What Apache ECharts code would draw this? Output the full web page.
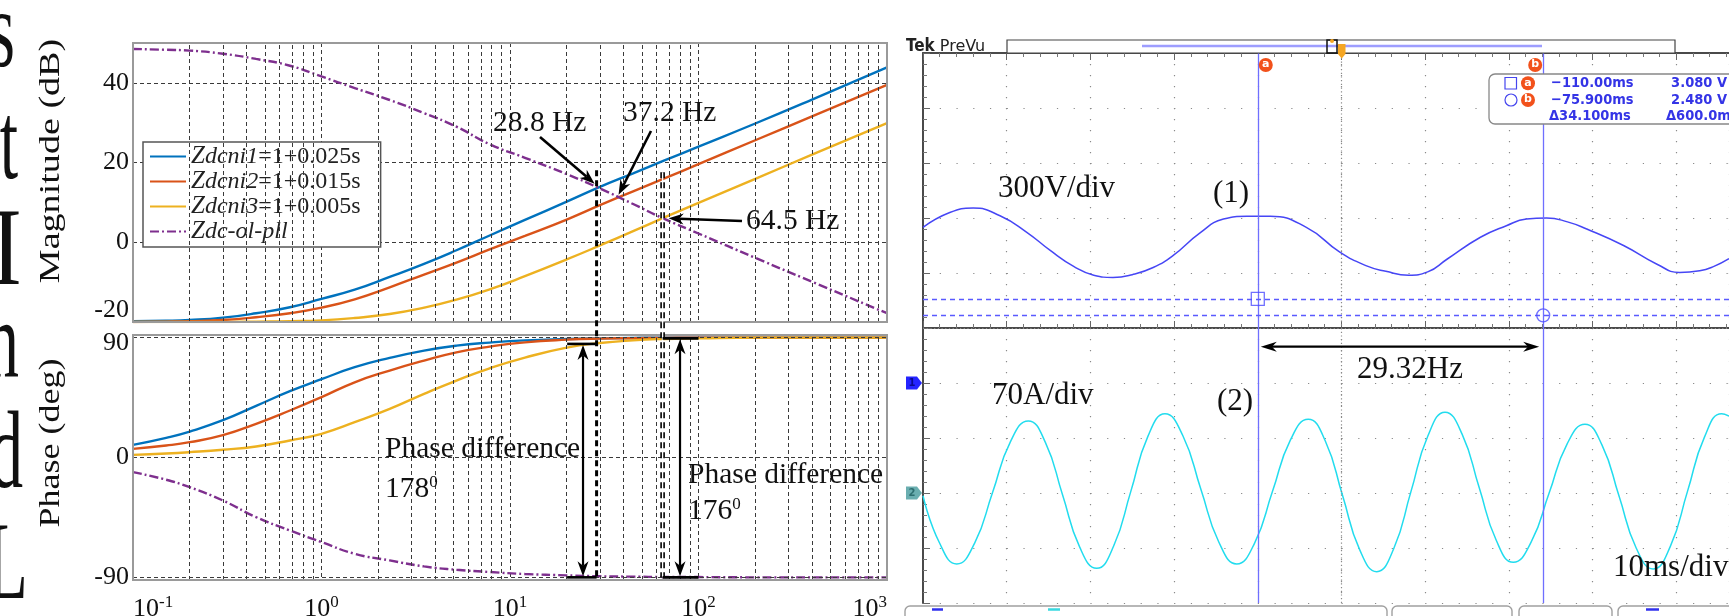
<!DOCTYPE html>
<html>
<head>
<meta charset="utf-8">
<script src="https://cdn.jsdelivr.net/npm/echarts@6.0.0/dist/echarts.min.js"></script>
<style>
html,body{margin:0;padding:0;background:#ffffff;overflow:hidden}
#chart{width:1729px;height:616px}
</style>
</head>
<body>
<div id="chart"></div>
<script>
// ===== Bode plot data =====
const freqHz = [0.1,0.15,0.2,0.3,0.45,0.68,1.0,1.5,2.3,3.5,5.2,7.8,12,20,30,45,65,100,200,400,1000];
const magZdcni1 = [-19.8,-19.7,-19.5,-18.9,-17.8,-16.3,-14.2,-11.9,-8.7,-5.4,-2.0,1.7,5.6,10.2,13.9,17.3,20.4,24.0,29.8,35.8,43.9];
const magZdcni2 = [-20.0,-19.9,-19.8,-19.5,-18.8,-17.8,-16.4,-14.3,-11.3,-8.1,-5.1,-1.8,1.6,5.7,9.3,12.8,15.9,19.6,25.6,31.6,39.5];
const magZdcni3 = [-20.0,-20.0,-20.0,-20.0,-19.9,-19.8,-19.6,-19.0,-18.0,-16.4,-14.4,-11.8,-8.5,-4.3,-0.8,2.8,6.1,9.9,15.9,22.0,29.9];
const magZpll   = [48.5,48.3,48.1,47.3,46.0,44.3,41.6,38.7,35.7,32.4,29.0,24.6,21.2,17.1,13.5,9.6,6.0,2.2,-3.9,-9.9,-17.8];
const phZdcni1  = [9.5,14.8,19.5,28.0,38.8,49.8,58.8,67.8,74.8,80.3,84.0,86.3,88.0,89.0,89.5,89.8,90,90,90,90,90];
const phZdcni2  = [6.5,9.0,11.5,16.8,25.3,35.3,45.3,56.5,65.3,72.8,79.0,83.3,86.5,88.5,89.3,89.6,89.8,90,90,90,90];
const phZdcni3  = [2.0,3.0,4.0,5.8,8.3,12.8,17.8,26.5,36.5,47.8,57.8,67.0,75.0,82.5,86.0,88.0,89.0,89.5,90,90,90];
const phZpll    = [-11.0,-16.7,-22.3,-32.3,-44.8,-54.8,-63.5,-72.3,-77.3,-81.8,-84.3,-86.0,-87.5,-88.5,-89.2,-89.5,-89.7,-89.8,-90,-90,-90];
const seriesNames = ['Zdcni1=1+0.025s','Zdcni2=1+0.015s','Zdcni3=1+0.005s','Zdc-ol-pll'];
const magTickLabels = [-20, 0, 20, 40];
const phaseTickLabels = [-90, 0, 90];
// annotations
const crossFreq = [28.8, 37.2, 64.5];
const crossDb   = [13.7, 11.4, 6.0];
const crossText = ['28.8 Hz', '37.2 Hz', '64.5 Hz'];
const phaseDiffText = ['178', '176'];

// ===== Oscilloscope data (time in ms, value in divisions) =====
const ch1Time = [0,3.2,6.0,9.2,12.4,15.2,18.0,20.4,22.7,25.0,27.5,29.9,33.1,35.9,38.7,41.5,45.8,49.8,53.0,55.3,58.0,60.3,62.6,66.6,69.7,72.1,74.5,77.0,79.3,83.7,87.7,90.4,92.8,94.5,96.3];
const ch1Div  = [1.83,2.10,2.18,2.04,1.74,1.41,1.12,0.96,0.92,0.97,1.10,1.32,1.73,1.98,2.03,2.03,1.83,1.38,1.13,1.03,0.96,1.02,1.25,1.65,1.86,1.98,2.00,1.93,1.80,1.50,1.16,1.01,1.04,1.12,1.26];
const ch2Time = [0.0,1.95,4.03,6.17,8.31,10.44,12.58,14.62,16.67,18.71,20.75,22.79,24.83,26.87,28.91,31.05,33.20,35.34,37.48,39.62,41.76,43.89,46.03,48.08,50.12,52.17,54.21,56.25,58.29,60.33,62.37,64.41,66.45,68.49,70.53,72.67,74.81,76.95,79.09,81.13,83.17,85.21,87.25,89.29,91.34,93.38,95.42,96.3];
const ch2Div  = [-3.05,-3.90,-4.29,-3.91,-2.99,-2.07,-1.69,-2.08,-3.03,-3.98,-4.37,-3.96,-2.97,-1.97,-1.56,-1.96,-2.93,-3.89,-4.29,-3.91,-2.97,-2.04,-1.66,-2.06,-3.04,-4.03,-4.43,-4.01,-2.98,-1.96,-1.53,-1.93,-2.90,-3.86,-4.26,-3.89,-3.00,-2.11,-1.75,-2.13,-3.06,-4.00,-4.38,-3.97,-2.97,-1.98,-1.56,-1.60];
const cursorTime = [40.0, 74.1];
const cursorLevel = [0.53, 0.23];
const chGround = [-1, -3];
const readoutRows = [['\u2212110.00ms','3.080 V'],['\u221275.900ms','2.480 V'],['\u039434.100ms','\u0394600.0m']];

const SERIF = '"Liberation Serif","Times New Roman",serif';
const COLORS = ['#0072BD','#D95319','#EDB120','#7E2F8E'];
const GRIDC = '#3a3a3a';

const zip = (a, b) => a.map((v, i) => [v, b[i]]);
const minorF = [];
[0.1, 1, 10, 100].forEach(d => { for (let k = 2; k <= 9; k++) minorF.push(+(d * k).toPrecision(3)); });

function bodeSeries(name, vals, idx, gi) {
  return {
    name, type: 'line', xAxisIndex: gi, yAxisIndex: gi, data: zip(freqHz, vals),
    smooth: 0.5, symbol: 'none', z: 3,
    lineStyle: {color: COLORS[idx], width: 2.4, type: idx === 3 ? [9, 3, 2, 3] : 'solid'},
    itemStyle: {color: COLORS[idx]}
  };
}
const magVals = [magZdcni1, magZdcni2, magZdcni3, magZpll];
const phVals = [phZdcni1, phZdcni2, phZdcni3, phZpll];

const gridLineStyle = {color: GRIDC, type: [4, 3], width: 1};
const mlBase = {symbol: ['none','none'], silent: true, label: {show: false}, animation: false, emphasis: {disabled: true}};

const option = {
  animation: false,
  backgroundColor: '#ffffff',
  grid: [
    {left: 133, top: 43, width: 754, height: 279, outerBoundsMode: 'none', containLabel: false},
    {left: 133, top: 335, width: 754, height: 245, outerBoundsMode: 'none', containLabel: false},
    {left: 923, top: 53, width: 806, height: 550, outerBoundsMode: 'none', containLabel: false}
  ],
  xAxis: [
    {gridIndex: 0, type: 'log', logBase: 10, min: 0.1, max: 1000,
     axisLine: {show: false}, axisTick: {show: false}, axisLabel: {show: false},
     splitLine: {show: true, lineStyle: gridLineStyle}},
    {gridIndex: 1, type: 'log', logBase: 10, min: 0.1, max: 1000,
     axisLine: {show: false}, axisTick: {show: false},
     splitLine: {show: true, lineStyle: gridLineStyle},
     axisLabel: {show: true, margin: 14, alignMinLabel: 'left', alignMaxLabel: 'right',
       formatter: v => '{b|10}{s|' + Math.round(Math.log10(v)) + '}',
       rich: {b: {fontFamily: SERIF, fontSize: 26, color: '#111', lineHeight: 30},
              s: {fontFamily: SERIF, fontSize: 17, color: '#111', lineHeight: 16, verticalAlign: 'top'}}}},
    {gridIndex: 2, type: 'value', min: 0, max: 96.3, interval: 10, position: 'bottom',
     axisLine: {show: true, lineStyle: {color: '#4a4a4a', width: 2}},
     axisTick: {show: true, inside: true, length: 7, lineStyle: {color: '#666'}},
     minorTick: {show: true, splitNumber: 5, length: 4, lineStyle: {color: '#777'}},
     axisLabel: {show: false},
     splitLine: {show: true, lineStyle: {color: '#8a8a8a', type: [1.2, 9.8], width: 1.2}}},
    {gridIndex: 2, type: 'value', min: 0, max: 96.3, interval: 10, position: 'top',
     axisLine: {show: true, lineStyle: {color: '#4a4a4a', width: 2}},
     axisTick: {show: true, inside: true, length: 7, lineStyle: {color: '#666'}},
     minorTick: {show: true, splitNumber: 5, length: 4, lineStyle: {color: '#777'}},
     axisLabel: {show: false}, splitLine: {show: false}}
  ],
  yAxis: [
    {gridIndex: 0, type: 'value', min: -20, max: 50, interval: 20,
     axisLine: {show: false}, axisTick: {show: false},
     splitLine: {show: true, lineStyle: gridLineStyle},
     axisLabel: {margin: 4,
       formatter: v => magTickLabels.indexOf(v) < 0 ? '' : (v === -20 ? '{n|-20}\n{g| }' : '{n|' + v + '}'),
       rich: {n: {fontFamily: SERIF, fontSize: 26, color: '#111', lineHeight: 26, align: 'right'},
              g: {fontSize: 2, lineHeight: 24}}}},
    {gridIndex: 1, type: 'value', min: -92, max: 92, interval: 2,
     axisLine: {show: false}, axisTick: {show: false}, splitLine: {show: false},
     axisLabel: {margin: 4,
       formatter: v => phaseTickLabels.indexOf(v) < 0 ? '' : (v === 90 ? '{g| }\n{n|90}' : '{n|' + v + '}'),
       rich: {n: {fontFamily: SERIF, fontSize: 26, color: '#111', lineHeight: 26, align: 'right'},
              g: {fontSize: 2, lineHeight: 12}}}},
    {gridIndex: 2, type: 'value', min: -5, max: 5, interval: 1,
     axisLine: {show: true, lineStyle: {color: '#4a4a4a', width: 2}},
     axisTick: {show: true, inside: true, length: 7, lineStyle: {color: '#666'}},
     minorTick: {show: true, splitNumber: 5, length: 4, lineStyle: {color: '#777'}},
     axisLabel: {show: false},
     splitLine: {show: true, lineStyle: {color: '#8a8a8a', type: [1.2, 15.54], width: 1.2}}}
  ],
  legend: {
    data: seriesNames, orient: 'vertical', left: 143, top: 142,
    itemWidth: 36, itemHeight: 14, itemGap: 0, selectedMode: false,
    itemStyle: {opacity: 0},
    backgroundColor: '#ffffff', borderColor: '#555', borderWidth: 1.5, borderRadius: 0,
    padding: [2, 20, 3, 6],
    textStyle: {fontFamily: SERIF, fontSize: 24, color: '#222', lineHeight: 25,
      rich: {z: {fontFamily: SERIF, fontSize: 25, fontStyle: 'italic', color: '#222', lineHeight: 25},
             s: {fontFamily: SERIF, fontSize: 24, fontStyle: 'italic', color: '#222', lineHeight: 17, verticalAlign: 'bottom'},
             r: {fontFamily: SERIF, fontSize: 24, color: '#222', lineHeight: 25}}},
    formatter: name => {
      const eq = name.indexOf('=');
      const sub = eq < 0 ? name.slice(1) : name.slice(1, eq);
      const rest = eq < 0 ? '' : name.slice(eq);
      return '{z|Z}{s|' + sub + '}' + (rest ? '{r|' + rest + '}' : '');
    }
  },
  series: [
    ...magVals.map((v, i) => bodeSeries(seriesNames[i], v, i, 0)),
    ...phVals.map((v, i) => bodeSeries(seriesNames[i], v, i, 1)),
    {type: 'line', xAxisIndex: 0, yAxisIndex: 0, data: [[1, 0]], symbol: 'none', z: 1, silent: true,
     lineStyle: {opacity: 0},
     markLine: Object.assign({lineStyle: gridLineStyle, data: minorF.map(f => ({xAxis: f}))}, mlBase)},
    {type: 'line', xAxisIndex: 1, yAxisIndex: 1, data: [[1, 0]], symbol: 'none', z: 1, silent: true,
     lineStyle: {opacity: 0},
     markLine: Object.assign({lineStyle: gridLineStyle,
       data: minorF.map(f => ({xAxis: f})).concat(phaseTickLabels.map(p => ({yAxis: p})))}, mlBase)},
    // scope centre graticule lines
    {type: 'line', xAxisIndex: 2, yAxisIndex: 2, data: [[0, 0]], symbol: 'none', z: 1, silent: true,
     lineStyle: {opacity: 0},
     markLine: Object.assign({lineStyle: {color: '#8a8a8a', type: [1.2, 2.5], width: 1.2},
       data: [{xAxis: 50}, {yAxis: 0}]}, mlBase)},
    // cursors
    {type: 'line', xAxisIndex: 2, yAxisIndex: 2, data: [[0, 0]], symbol: 'none', z: 4, silent: true,
     lineStyle: {opacity: 0},
     markLine: Object.assign({
       data: cursorTime.map(t => ({xAxis: t, lineStyle: {color: '#6f6fff', width: 1.3, type: 'solid'}}))
         .concat(cursorLevel.map(l => ({yAxis: l, lineStyle: {color: '#5a5aff', width: 1.3, type: [5, 4]}})))}, mlBase)},
    {name: 'CH1', type: 'line', xAxisIndex: 2, yAxisIndex: 2, data: zip(ch1Time, ch1Div),
     smooth: 0.5, symbol: 'none', z: 3, lineStyle: {color: '#4646f5', width: 1.5}},
    {name: 'CH2', type: 'line', xAxisIndex: 2, yAxisIndex: 2, data: zip(ch2Time, ch2Div),
     smooth: 0.5, symbol: 'none', z: 3, lineStyle: {color: '#22dcee', width: 1.5}},
    {type: 'scatter', xAxisIndex: 2, yAxisIndex: 2, z: 5, silent: true,
     data: [{value: [cursorTime[0], cursorLevel[0]], symbol: 'rect'}, {value: [cursorTime[1], cursorLevel[1]], symbol: 'circle'}],
     symbolSize: 13, itemStyle: {color: 'rgba(0,0,0,0)', borderColor: '#4b4bff', borderWidth: 1.3}}
  ]
};

const chart = echarts.init(document.getElementById('chart'), null, {renderer: 'canvas', width: 1729, height: 616});
chart.setOption(option);

const P0 = (f, d) => chart.convertToPixel({gridIndex: 0}, [f, d]);
const P1 = (f, d) => chart.convertToPixel({gridIndex: 1}, [f, d]);
const P2 = (t, v) => chart.convertToPixel({gridIndex: 2}, [t, v]);

const G = [];
const Z = 100;
function txt(x, y, text, o) {
  const st = Object.assign({text, fontFamily: SERIF, fontSize: 29.5, fill: '#111',
    align: 'left', verticalAlign: 'middle'}, o || {});
  st.textAlign = st.align;
  st.textVerticalAlign = st.verticalAlign;
  return {type: 'text', x, y, z: Z, style: st};
}
function line(x1, y1, x2, y2, stroke, w, dash) {
  return {type: 'line', z: Z, shape: {x1, y1, x2, y2}, style: {stroke, lineWidth: w, lineDash: dash || null}};
}
function head(x1, y1, x2, y2, hl, hw, col) {
  const dx = x2 - x1, dy = y2 - y1, L = Math.hypot(dx, dy), ux = dx / L, uy = dy / L;
  const bx = x2 - ux * hl, by = y2 - uy * hl;
  const ix = x2 - ux * hl * 0.7, iy = y2 - uy * hl * 0.7;
  return {type: 'polygon', z: Z, shape: {points: [[x2, y2], [bx - uy * hw, by + ux * hw], [ix, iy], [bx + uy * hw, by - ux * hw]]}, style: {fill: col}};
}
function arrow(x1, y1, x2, y2, w, col, hl, hw) {
  const dx = x2 - x1, dy = y2 - y1, L = Math.hypot(dx, dy);
  const ex = x2 - dx / L * hl * 0.7, ey = y2 - dy / L * hl * 0.7;
  G.push(line(x1, y1, ex, ey, col, w));
  G.push(head(x1, y1, x2, y2, hl, hw, col));
}
function dblArrow(x1, y1, x2, y2, w, col, hl, hw) {
  const dx = x2 - x1, dy = y2 - y1, L = Math.hypot(dx, dy), ux = dx / L, uy = dy / L;
  G.push(line(x1 + ux * hl * 0.7, y1 + uy * hl * 0.7, x2 - ux * hl * 0.7, y2 - uy * hl * 0.7, col, w));
  G.push(head(x2, y2, x1, y1, hl, hw, col));
  G.push(head(x1, y1, x2, y2, hl, hw, col));
}

// --- clipped text column at far left: [letter, y, right x, horizontal scale] ---
const leftLetters = [['s', 92, 15, 0.6], ['t', 204, 18, 0.6], ['I', 310, 22, 0.85], ['n', 403, 19, 0.6], ['d', 513, 23, 0.62], ['L', 624, 28, 0.62]];
leftLetters.forEach(([ch, base, right, sx]) => {
  G.push({type: 'text', x: right, y: base, z: Z, scaleX: sx,
    style: {text: ch, fontFamily: SERIF, fontSize: 110, fill: '#111', align: 'right', textAlign: 'right',
            verticalAlign: 'bottom', textVerticalAlign: 'bottom', lineHeight: 110}});
});

// --- axis titles ---
const titleStyle = {fontFamily: SERIF, fontSize: 30, fill: '#111', align: 'center', textAlign: 'center', verticalAlign: 'middle', textVerticalAlign: 'middle'};
G.push({type: 'text', x: 51, y: 161, z: Z, rotation: Math.PI / 2, scaleX: 1.27,
  style: Object.assign({text: 'Magnitude (dB)'}, titleStyle)});
G.push({type: 'text', x: 51, y: 443, z: Z, rotation: Math.PI / 2, scaleX: 1.2,
  style: Object.assign({text: 'Phase (deg)'}, titleStyle)});

// --- bode frames ---
G.push({type: 'rect', z: Z, shape: {x: 133, y: 43, width: 754, height: 279}, style: {fill: 'none', stroke: '#9a9a9a', lineWidth: 2}});
G.push({type: 'rect', z: Z, shape: {x: 133, y: 335, width: 754, height: 245}, style: {fill: 'none', stroke: '#9a9a9a', lineWidth: 2}});

// --- crossing markers: dashed verticals ---
{
  const a0 = P0(crossFreq[0], 18.1), a1 = P1(crossFreq[0], -90);
  G.push(line(a0[0], a0[1], a1[0], a1[1], '#000', 3, [6, 4]));
  const b0 = P0(crossFreq[2], 17.6), b1 = P1(crossFreq[2], -90);
  G.push(line(b0[0], b0[1], b1[0], b1[1], '#000', 4.6, [6, 4]));
  G.push(line(b0[0], b0[1], b1[0], b1[1], '#fff', 1.4));
}
// crossing labels and arrows
{
  const t0 = P0(crossFreq[0], crossDb[0]);
  G.push(txt(493, 123, crossText[0]));
  arrow(540, 137, t0[0] - 2, t0[1] - 4, 2.6, '#000', 15, 5.5);
  const t1 = P0(crossFreq[1], crossDb[1]);
  G.push(txt(623, 113, crossText[1]));
  arrow(651, 131, t1[0] + 1, t1[1] - 2, 2.6, '#000', 15, 5.5);
  const t2 = P0(crossFreq[2], crossDb[2]);
  G.push(txt(746, 221, crossText[2]));
  arrow(742, 221, t2[0] + 6, t2[1], 2.6, '#000', 15, 5.5);
}
// phase difference arrows
{
  const top1 = P1(24.4, 85.3), bot1 = P1(24.4, -90);
  const l1 = P1(20.1, 85.3), r1 = P1(crossFreq[0], 85.3), lb1 = P1(20.1, -90), rb1 = P1(crossFreq[0], -90);
  G.push(line(l1[0], l1[1], r1[0], r1[1], '#000', 2.6));
  G.push(line(lb1[0], lb1[1], rb1[0], rb1[1], '#000', 2.6));
  dblArrow(top1[0], top1[1] + 1, bot1[0], bot1[1] - 1, 2.2, '#000', 15, 5.5);
  const top2 = P1(79.8, 89.5), bot2 = P1(79.8, -90);
  const l2 = P1(crossFreq[2], 89.5), r2 = P1(100, 89.5), lb2 = P1(crossFreq[2], -90), rb2 = P1(100, -90);
  G.push(line(l2[0], l2[1], r2[0], r2[1], '#000', 2.6));
  G.push(line(lb2[0], lb2[1], rb2[0], rb2[1], '#000', 2.6));
  dblArrow(top2[0], top2[1] + 1, bot2[0], bot2[1] - 1, 2.2, '#000', 15, 5.5);
  const richDeg = {m: {fontFamily: SERIF, fontSize: 29.5, fill: '#111', lineHeight: 30},
                   p: {fontFamily: SERIF, fontSize: 17, fill: '#111', lineHeight: 18, verticalAlign: 'top'}};
  G.push(txt(385, 449, 'Phase difference'));
  G.push(txt(385, 489, '{m|' + phaseDiffText[0] + '}{p|0}', {rich: richDeg}));
  G.push(txt(688, 475, 'Phase difference'));
  G.push(txt(688, 511, '{m|' + phaseDiffText[1] + '}{p|0}', {rich: richDeg}));
}

// --- oscilloscope decorations ---
G.push(txt(906, 47, '{t|Tek}{p| PreVu}', {rich: {
  t: {fontFamily: '"DejaVu Sans Condensed","DejaVu Sans",sans-serif', fontWeight: 'bold', fontSize: 17, fill: '#222'},
  p: {fontFamily: '"DejaVu Sans",sans-serif', fontSize: 16, fill: '#222'}}}));
G.push({type: 'rect', z: Z, shape: {x: 1007, y: 40, width: 668, height: 13}, style: {fill: '#fff', stroke: '#444', lineWidth: 1.2}});
G.push(line(1142, 46, 1542, 46, '#9d9dff', 2.4));
G.push({type: 'rect', z: Z, shape: {x: 1327, y: 40, width: 10, height: 13}, style: {fill: 'none', stroke: '#111', lineWidth: 1.5}});
G.push({type: 'circle', z: Z, shape: {cx: 1332, cy: 41, r: 2}, style: {fill: '#f5a623'}});
G.push({type: 'polygon', z: Z + 1, shape: {points: [[1338, 44], [1345.5, 44], [1345.5, 54], [1341.7, 58.5], [1338, 54]]}, style: {fill: '#f5a623'}});
G.push(txt(1341.7, 49.5, 'T', {fontFamily: 'DejaVu Sans', fontSize: 9, fill: '#fff', align: 'center', fontWeight: 'bold'}));

// channel ground markers
[['1', '#2424ff'], ['2', '#6aaeb0']].forEach(([lab, col], i) => {
  const y = P2(0, chGround[i])[1];
  G.push({type: 'polygon', z: Z, shape: {points: [[906, y - 6.5], [917, y - 6.5], [922, y], [917, y + 6.5], [906, y + 6.5]]}, style: {fill: col}});
  G.push(txt(912, y + 0.5, lab, {fontFamily: 'DejaVu Sans', fontSize: 10, fontWeight: 'bold', fill: i === 0 ? '#0a0a90' : '#2d6e70', align: 'center'}));
});

// cursor badges
const badge = (cx, cy, l) => {
  G.push({type: 'circle', z: Z, shape: {cx, cy, r: 7}, style: {fill: '#f2511b'}});
  G.push(txt(cx, cy - 0.5, l, {fontFamily: 'DejaVu Sans', fontSize: 11, fontWeight: 'bold', fill: '#fff', align: 'center'}));
};
{
  const ca = P2(cursorTime[0], 0)[0], cb = P2(cursorTime[1], 0)[0];
  badge(ca + 8, 65, 'a');
  badge(cb - 8, 65, 'b');
  // readout box
  G.push({type: 'rect', z: Z, shape: {x: 1489, y: 74, width: 260, height: 50, r: 6}, style: {fill: '#fff', stroke: '#888', lineWidth: 1.3}});
  G.push({type: 'rect', z: Z, shape: {x: 1505, y: 77.5, width: 11.5, height: 11.5}, style: {fill: 'none', stroke: '#4545ee', lineWidth: 1.2}});
  G.push({type: 'circle', z: Z, shape: {cx: 1511, cy: 100, r: 6}, style: {fill: 'none', stroke: '#4545ee', lineWidth: 1.2}});
  badge(1528, 83.3, 'a');
  badge(1528, 100, 'b');
  const rowY = [83.3, 100, 116.3];
  const mono = {fontFamily: '"DejaVu Sans Condensed","DejaVu Sans",sans-serif', fontSize: 14.5, fontWeight: 'bold', fill: '#3434e6'};
  readoutRows.forEach((r, i) => {
    G.push(txt(i === 2 ? 1549 : 1551, rowY[i], r[0], mono));
    if (i < 2) G.push(txt(1727, rowY[i], r[1], Object.assign({}, mono, {align: 'right'})));
    else G.push(txt(1666, rowY[i], r[1], mono));
  });
  // frequency arrow between cursors
  const ya = 346.7;
  dblArrow(ca + 3, ya, cb - 4, ya, 2.2, '#000', 16, 5);
}
// scope annotations
G.push(txt(998, 189, '300V/div', {fontSize: 31}));
G.push(txt(1213, 194, '(1)', {fontSize: 31}));
G.push(txt(992, 396, '70A/div', {fontSize: 31}));
G.push(txt(1217, 402, '(2)', {fontSize: 31}));
G.push(txt(1357, 370, '29.32Hz', {fontSize: 31}));
G.push(txt(1613, 568, '10ms/div', {fontSize: 31}));

// bottom tab strip
[[905, 1387], [1392, 1512], [1519, 1612], [1618, 1760]].forEach(([a, b]) => {
  G.push({type: 'rect', z: Z, shape: {x: a, y: 606, width: b - a, height: 20, r: 5}, style: {fill: '#fff', stroke: '#a0a0a0', lineWidth: 1.4}});
});
G.push(line(932, 609.5, 943, 609.5, '#3030ee', 2.5));
G.push(line(1048, 609.5, 1060, 609.5, '#39d9e0', 2.5));
G.push(line(1646, 609.5, 1659, 609.5, '#3030ee', 2.5));

chart.setOption({graphic: {elements: G}});
</script>
</body>
</html>
